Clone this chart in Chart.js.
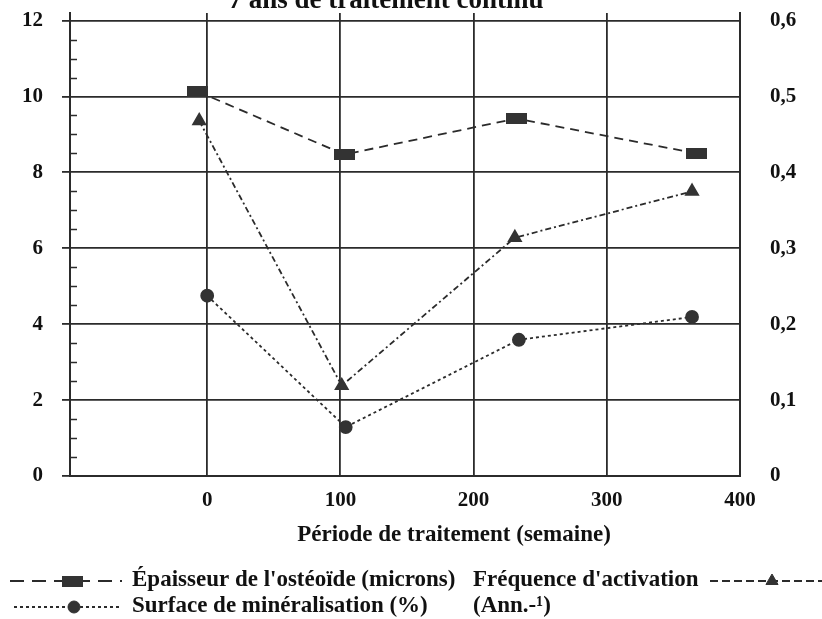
<!DOCTYPE html>
<html>
<head>
<meta charset="utf-8">
<script src="https://cdn.jsdelivr.net/npm/chart.js@4.4.0/dist/chart.umd.min.js"></script>
<style>
  html, body { margin: 0; padding: 0; background: #ffffff; }
  #wrap { position: relative; width: 822px; height: 619px; }
</style>
</head>
<body>
<div id="wrap"><canvas id="chart"></canvas></div>
<script>
'use strict';

/* ── Data ─────────────────────────────────────── */
var epaisseurX = [-7, 103, 232, 367];
var epaisseurY = [10.13, 8.47, 9.42, 8.5];      /* microns, left axis */
var surfaceX   = [0, 104, 234, 364];
var surfaceY   = [4.75, 1.29, 3.59, 4.19];       /* %, left axis */
var frequenceX = [-6, 101, 231, 364];
var frequenceY = [0.468, 0.119, 0.314, 0.375];   /* Ann.-1, right axis */

var xTicks      = [0, 100, 200, 300, 400];
var yLeftTicks  = [0, 2, 4, 6, 8, 10, 12];
var yRightTicks = [0, 0.1, 0.2, 0.3, 0.4, 0.5, 0.6];

var titleText  = '7 ans de traitement continu';
var xTitleText = 'Période de traitement (semaine)';
var lblEpaisseur = 'Épaisseur de l\'ostéoïde (microns)';
var lblSurface   = 'Surface de minéralisation (%)';
var lblFrequence = ['Fréquence d\'activation', '(Ann.-¹)'];

var INK  = '#2b2b2b';
var FONT = '"Liberation Serif", "Times New Roman", serif';

function pts(xs, ys) {
  return xs.map(function (x, i) { return { x: x, y: ys[i] }; });
}

/* wide filled rectangle marker */
var rectMarker = document.createElement('canvas');
rectMarker.width = 21; rectMarker.height = 11;
(function () {
  var c = rectMarker.getContext('2d');
  c.fillStyle = '#333333';
  c.fillRect(0, 0, 21, 11);
})();

function fixTicks(list) {
  return function (scale) { scale.ticks = list.map(function (v) { return { value: v }; }); };
}

/* ── Decorations: title, x title, minor ticks, legend ── */
var decor = {
  id: 'decor',
  afterDraw: function (chart) {
    var ctx = chart.ctx;
    var ya = chart.scales.y;
    ctx.save();

    /* inward minor ticks on left axis */
    ctx.strokeStyle = INK; ctx.lineWidth = 1.5; ctx.setLineDash([]);
    for (var i = 0; i < yLeftTicks.length - 1; i++) {
      var step = (yLeftTicks[i + 1] - yLeftTicks[i]) / 4;
      for (var k = 1; k < 4; k++) {
        var py = Math.round(ya.getPixelForValue(yLeftTicks[i] + k * step)) + 0.5;
        ctx.beginPath(); ctx.moveTo(ya.right, py); ctx.lineTo(ya.right + 7, py); ctx.stroke();
      }
    }

    ctx.fillStyle = '#111';
    /* title (cut at the top like the scan) */
    ctx.font = 'bold 27px ' + FONT;
    ctx.textAlign = 'center'; ctx.textBaseline = 'alphabetic';
    ctx.fillText(titleText, 386, 8);

    /* x axis title */
    ctx.font = 'bold 23px ' + FONT;
    ctx.textBaseline = 'middle';
    ctx.fillText(xTitleText, 454, 535);

    /* legend */
    var ds = chart.data.datasets;
    ctx.textAlign = 'left';
    ctx.fillText(lblEpaisseur, 132, 580);
    ctx.fillText(lblSurface, 132, 606);
    ctx.fillText(lblFrequence[0], 473, 580);
    ctx.fillText(lblFrequence[1], 473, 606);
    sample(ctx, 10, 122, 581, ds[0], [14, 8]);
    sample(ctx, 14, 122, 607, ds[1], ds[1].borderDash);
    sample(ctx, 710, 822, 581, ds[2], [8, 4]);
    ctx.restore();
  }
};

function sample(ctx, x1, x2, y, d, dash) {
  ctx.save();
  ctx.strokeStyle = INK; ctx.lineWidth = 2; ctx.setLineDash(dash);
  ctx.beginPath(); ctx.moveTo(x1, y); ctx.lineTo(x2, y); ctx.stroke();
  ctx.setLineDash([]);
  ctx.fillStyle = '#333333'; ctx.strokeStyle = '#333333'; ctx.lineWidth = 1;
  var xm = (x1 + x2) / 2 + 6;
  Chart.helpers.drawPoint(ctx, { pointStyle: d.pointStyle, radius: d.pointRadius, rotation: 0, borderWidth: 1 }, xm, y);
  ctx.restore();
}

function noPad(s) { s.paddingTop = 0; s.paddingBottom = 0; s.paddingLeft = 0; s.paddingRight = 0; }

var tickFont = { family: FONT, size: 21, weight: 'bold' };

new Chart(document.getElementById('chart'), {
  type: 'scatter',
  data: {
    datasets: [
      { label: lblEpaisseur, data: pts(epaisseurX, epaisseurY), yAxisID: 'y',
        showLine: true, borderColor: INK, borderWidth: 1.8, borderDash: [9, 6],
        pointStyle: rectMarker, pointRadius: 6, backgroundColor: '#333333' },
      { label: lblSurface, data: pts(surfaceX, surfaceY), yAxisID: 'y',
        showLine: true, borderColor: INK, borderWidth: 1.8, borderDash: [3, 3],
        pointStyle: 'circle', pointRadius: 6, backgroundColor: '#333333', pointBorderColor: '#333333' },
      { label: lblFrequence.join(' '), data: pts(frequenceX, frequenceY), yAxisID: 'y2',
        showLine: true, borderColor: INK, borderWidth: 1.8, borderDash: [6, 3, 2, 3],
        pointStyle: 'triangle', pointRadius: 7, backgroundColor: '#333333', pointBorderColor: '#333333' }
    ]
  },
  options: {
    responsive: true, maintainAspectRatio: false, animation: false, devicePixelRatio: 1,
    layout: { padding: { top: 13, left: 0, right: 0, bottom: 0 } },
    plugins: { legend: { display: false }, tooltip: { enabled: false }, title: { display: false } },
    scales: {
      x: {
        type: 'linear', position: 'bottom', min: -103, max: 400,
        afterBuildTicks: fixTicks(xTicks),
        afterFit: function (s) { s.height = 143; noPad(s); },
        grid: { color: INK, lineWidth: 1.8, drawTicks: false },
        border: { color: INK, width: 2 },
        ticks: { color: '#111', font: tickFont, padding: 12, maxRotation: 0 }
      },
      y: {
        position: 'left', min: 0, max: 12.2,
        afterBuildTicks: fixTicks(yLeftTicks),
        afterFit: function (s) { s.width = 70; noPad(s); },
        grid: { color: INK, lineWidth: 1.8, tickLength: 8, tickColor: INK },
        border: { color: INK, width: 2 },
        ticks: { color: '#111', font: tickFont, padding: 19 }
      },
      y2: {
        position: 'right', min: 0, max: 0.61,
        afterBuildTicks: fixTicks(yRightTicks),
        afterFit: function (s) { s.width = 82; noPad(s); },
        grid: { drawOnChartArea: false, drawTicks: false },
        border: { color: INK, width: 2 },
        ticks: { color: '#111', font: tickFont, padding: 30,
          callback: function (v) { return v === 0 ? '0' : v.toFixed(1).replace('.', ','); } }
      }
    }
  },
  plugins: [decor]
});
</script>
</body>
</html>
